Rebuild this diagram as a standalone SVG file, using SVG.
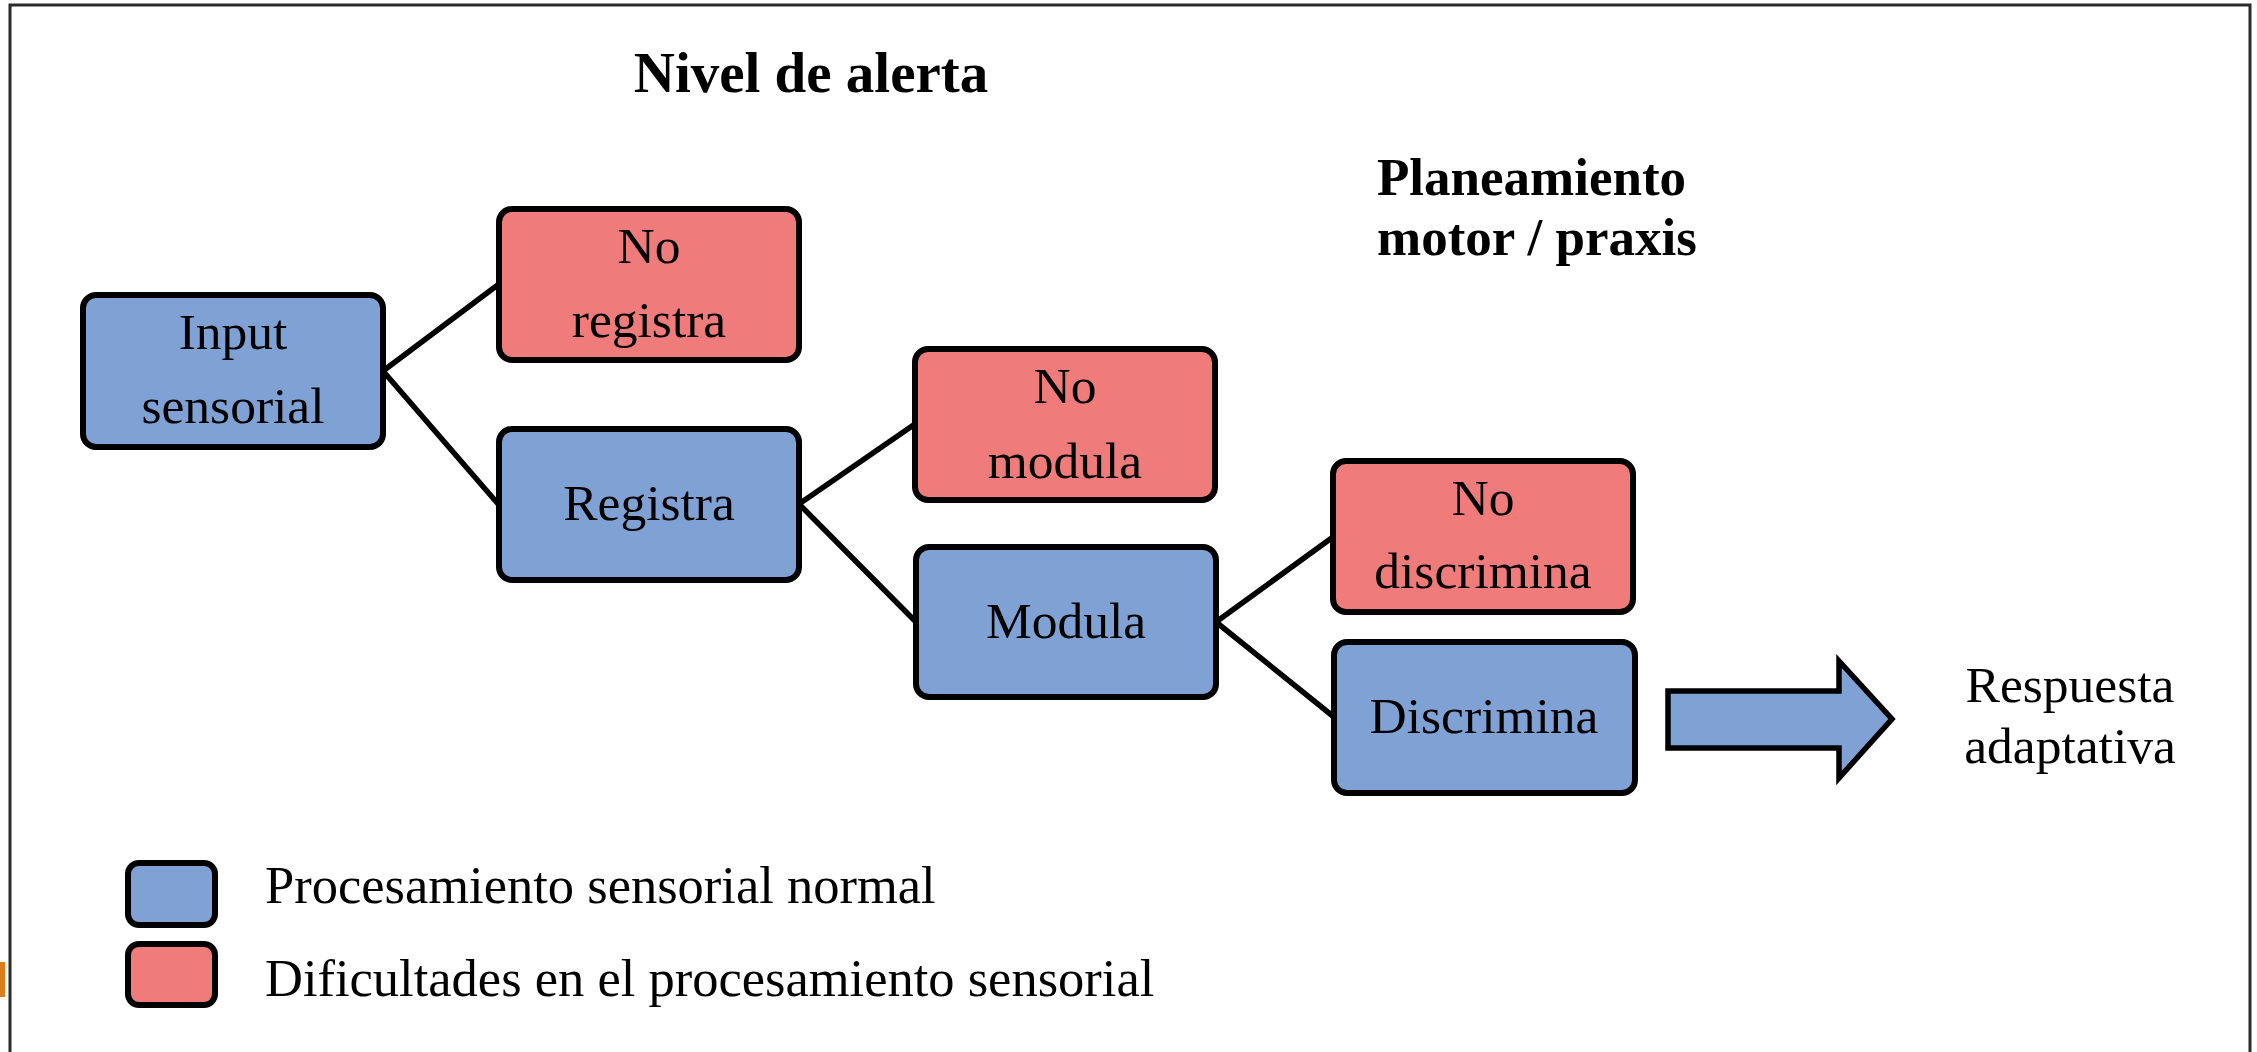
<svg xmlns="http://www.w3.org/2000/svg" width="2257" height="1052" viewBox="0 0 2257 1052">
<style>
.node rect{stroke:#000;stroke-width:6}
.ok{fill:#7FA1D4}
.bad{fill:#F07B7B}
.t{font-family:"Liberation Serif","Times New Roman",serif;font-size:51.5px;fill:#000;text-anchor:middle}
.h{font-family:"Liberation Serif","Times New Roman",serif;font-weight:bold;fill:#000}
.lg{font-family:"Liberation Serif","Times New Roman",serif;font-size:52.5px;fill:#000}
#connectors line{stroke:#000;stroke-width:5.5;stroke-linecap:round}
</style>
<rect x="0" y="0" width="2257" height="1052" fill="#fff"/>
<rect x="10" y="5" width="2240" height="1070" fill="none" stroke="#2a2a2a" stroke-width="3"/>
<rect x="0" y="962" width="5" height="35" fill="#E07A1F"/>
<text class="h" x="811" y="92" font-size="57" text-anchor="middle">Nivel de alerta</text>
<text class="h" x="1377" y="195" font-size="53">Planeamiento</text>
<text class="h" x="1377" y="255" font-size="53">motor / praxis</text>
<g id="connectors">
<line x1="383" y1="371" x2="499" y2="284"/>
<line x1="383" y1="371" x2="499" y2="505"/>
<line x1="799" y1="504" x2="915" y2="424"/>
<line x1="799" y1="504" x2="916" y2="622"/>
<line x1="1216" y1="622" x2="1333" y2="537"/>
<line x1="1216" y1="622" x2="1334" y2="717"/>
</g>
<g id="input" class="node"><rect class="ok" x="83" y="295" width="300" height="152" rx="13"/><text class="t" x="233" y="349">Input</text><text class="t" x="233" y="423">sensorial</text></g>
<g id="noregistra" class="node"><rect class="bad" x="499" y="209" width="300" height="151" rx="13"/><text class="t" x="649" y="263">No</text><text class="t" x="649" y="337">registra</text></g>
<g id="registra" class="node"><rect class="ok" x="499" y="429" width="300" height="151" rx="13"/><text class="t" x="649" y="520">Registra</text></g>
<g id="nomodula" class="node"><rect class="bad" x="915" y="349" width="300" height="151" rx="13"/><text class="t" x="1065" y="403">No</text><text class="t" x="1065" y="478">modula</text></g>
<g id="modula" class="node"><rect class="ok" x="916" y="547" width="300" height="150" rx="13"/><text class="t" x="1066" y="638">Modula</text></g>
<g id="nodiscrimina" class="node"><rect class="bad" x="1333" y="461" width="300" height="151" rx="13"/><text class="t" x="1483" y="515">No</text><text class="t" x="1483" y="588">discrimina</text></g>
<g id="discrimina" class="node"><rect class="ok" x="1334" y="642" width="301" height="151" rx="13"/><text class="t" x="1484" y="733">Discrimina</text></g>
<g id="arrow"><polygon points="1668,691 1839,691 1839,661 1892,719 1839,778 1839,748 1668,748" fill="#7FA1D4" stroke="#000" stroke-width="5.5" stroke-linejoin="miter"/></g>
<g id="respuesta"><text class="t" x="2070" y="702">Respuesta</text><text class="t" x="2070" y="763">adaptativa</text></g>
<g id="legend">
<g class="node"><rect class="ok" x="128" y="863" width="87" height="62" rx="11"/></g>
<g class="node"><rect class="bad" x="128" y="944" width="87" height="61" rx="11"/></g>
<text class="lg" x="265" y="903">Procesamiento sensorial normal</text>
<text class="lg" x="265" y="996">Dificultades en el procesamiento sensorial</text>
</g>
</svg>
